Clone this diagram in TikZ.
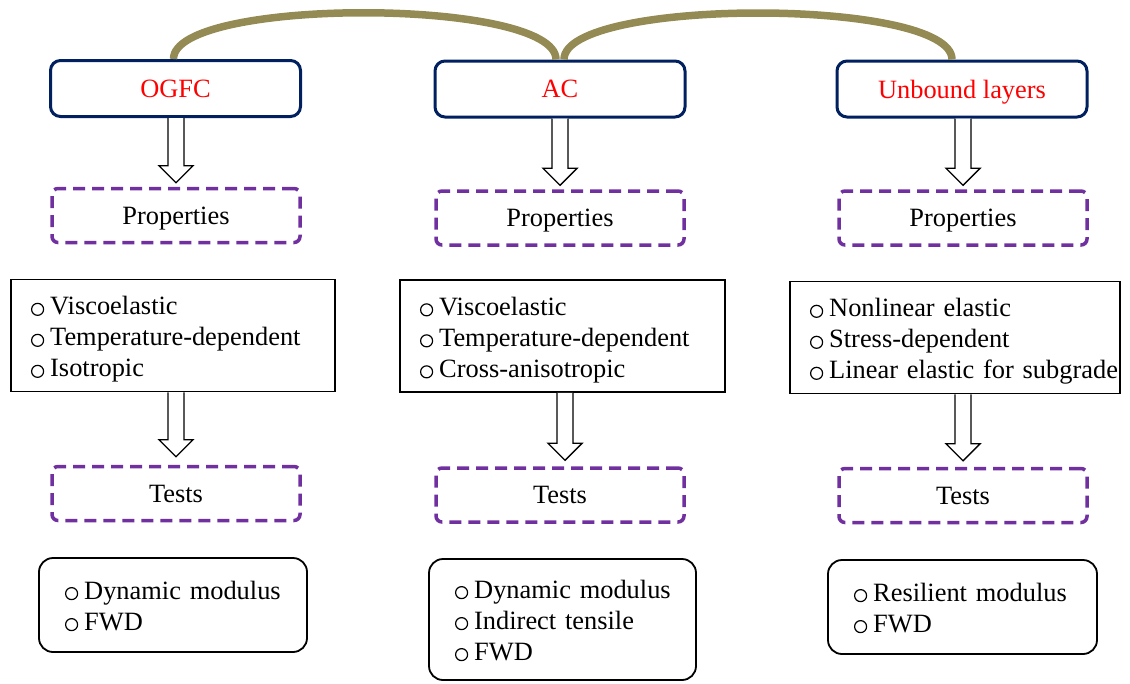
\documentclass[tikz,border=0pt]{standalone}
\usepackage{fontspec}
\setmainfont{Liberation Serif}
\usetikzlibrary{calc}
\definecolor{navyc}{HTML}{002060}
\definecolor{purp}{HTML}{7030A0}
\definecolor{olivec}{HTML}{948A54}
\newcommand\bul{\tikz[baseline=-5.5pt]\draw[black,solid,line width=1.2pt] (0pt,0pt) circle (6pt);\hspace{6pt}}
\newcommand\li[2]{\raisebox{-#1}[\height][\depth]{\bul #2}}
\newcommand\blockarrow[2]{\draw[barrow] let \p1=(#1), \p2=(#2) in
  (\x1-8pt,\y1) -- (\x1-8pt,\y2+17pt) -- (\x1-17pt,\y2+17pt) -- (\x1,\y2)
  -- (\x1+17pt,\y2+17pt) -- (\x1+8pt,\y2+17pt) -- (\x1+8pt,\y1);}
\tikzset{
  hdr/.style={draw=navyc, line width=3pt, rounded corners=10pt, text=red, fill=white,
    minimum width=250pt, minimum height=56pt, inner sep=0pt, text depth=0pt},
  dbox/.style={draw=purp, line width=3.5pt, dash pattern=on 12pt off 7pt,
    rounded corners=6pt, minimum width=248pt, minimum height=54pt, inner sep=0pt, text depth=0pt},
  pbox/.style={draw=black, line width=1.8pt, align=left, inner xsep=20pt, inner ysep=0pt,
    minimum height=112pt},
  bbox/.style={draw=black, line width=1.8pt, rounded corners=14pt, align=left,
    inner xsep=26pt, inner ysep=0pt},
  barrow/.style={draw=black, fill=white, line width=1.4pt, line join=miter},
  arcsty/.style={draw=olivec, line width=7.5pt},
}
\begin{document}
\begin{tikzpicture}[x=1pt,y=-1pt,font=\fontsize{26.4}{31}\selectfont]
\useasboundingbox (0,0) rectangle (1130,683);
% headers
\node[hdr] (og) at (175.5,88.5) {OGFC};
\node[hdr] (ac) at (560,89) {AC};
\node[hdr] (ub) at (962,89) {Unbound layers};
% arcs
\draw[arcsty] ([xshift=-2pt]og.north) .. controls +(0,-62) and +(0,-62) .. ([xshift=-4pt]ac.north);
\draw[arcsty] ([xshift=4pt]ac.north) .. controls +(0,-62) and +(0,-62) .. ([xshift=-10pt]ub.north);
% properties labels
\node[dbox] (ogp) at (176,215.5) {Properties};
\node[dbox] (acp) at (560,218) {Properties};
\node[dbox] (ubp) at (963,218) {Properties};
% property lists
\node[pbox, text width=284pt] (ogpr) at (173,335.5)
  {\li{4pt}{Viscoelastic}\\\li{4pt}{Temperature-dependent}\\\li{4pt}{Isotropic}};
\node[pbox, text width=285pt] (acpr) at (562.5,336)
  {\li{4pt}{Viscoelastic}\\\li{4pt}{Temperature-dependent}\\\li{4pt}{Cross-anisotropic}};
\node[pbox, text width=290pt] (ubpr) at (955,337.5)
  {\li{4pt}{Nonlinear elastic}\\\li{4pt}{Stress-dependent}\\\li{4pt}{Linear elastic for subgrade}};
% tests labels
\node[dbox] (ogt) at (176,493.5) {Tests};
\node[dbox] (act) at (560,495) {Tests};
\node[dbox] (ubt) at (963,495.5) {Tests};
% test lists
\node[bbox, text width=216pt, minimum height=94pt] (ogb) at (173,605)
  {\li{1pt}{Dynamic modulus}\\\li{1pt}{FWD}};
\node[bbox, text width=215pt, minimum height=121pt] (acb) at (562.5,619.5)
  {\li{1pt}{Dynamic modulus}\\\li{1pt}{Indirect tensile}\\\li{1pt}{FWD}};
\node[bbox, text width=217pt, minimum height=94pt] (ubb) at (962.5,607)
  {\li{1pt}{Resilient modulus}\\\li{1pt}{FWD}};
% block arrows
\blockarrow{ogp.north |- og.south}{[yshift=4pt]ogp.north}
\blockarrow{acp.north |- ac.south}{[yshift=4pt]acp.north}
\blockarrow{ubp.north |- ub.south}{[yshift=4pt]ubp.north}
\blockarrow{ogt.north |- ogpr.south}{[yshift=8pt]ogt.north}
\blockarrow{[xshift=5pt]act.north |- acpr.south}{[yshift=6pt,xshift=5pt]act.north}
\blockarrow{ubt.north |- ubpr.south}{[yshift=6pt]ubt.north}
\end{tikzpicture}
\end{document}
